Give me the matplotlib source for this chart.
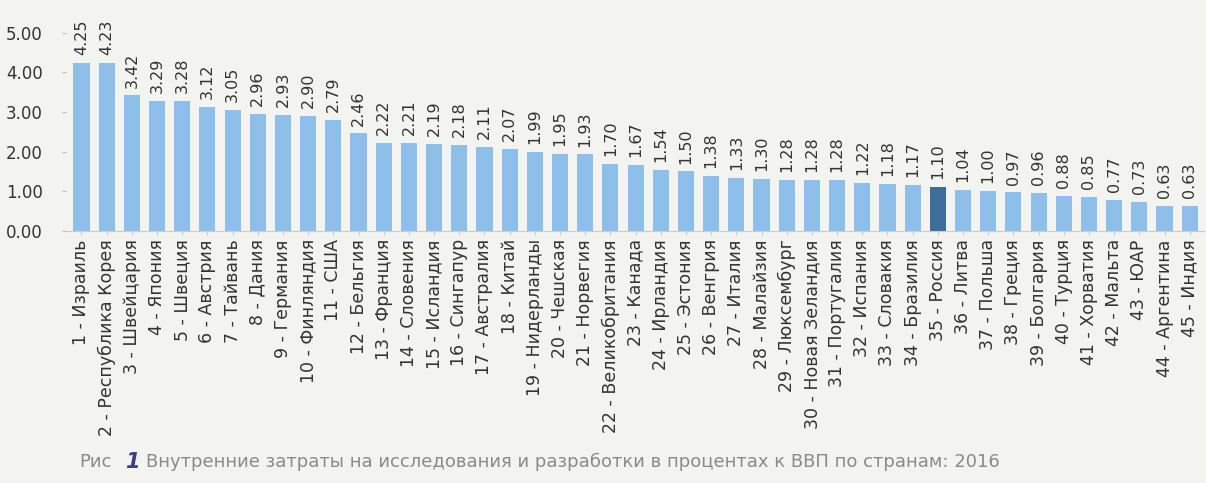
import matplotlib.pyplot as plt

# Данные: затраты на ИР, % ВВП, 2016
countries = [
    '1 - Израиль', '2 - Республика Корея', '3 - Швейцария', '4 - Япония', '5 - Швеция',
    '6 - Австрия', '7 - Тайвань', '8 - Дания', '9 - Германия', '10 - Финляндия',
    '11 - США', '12 - Бельгия', '13 - Франция', '14 - Словения', '15 - Исландия',
    '16 - Сингапур', '17 - Австралия', '18 - Китай', '19 - Нидерланды', '20 - Чешская',
    '21 - Норвегия', '22 - Великобритания', '23 - Канада', '24 - Ирландия', '25 - Эстония',
    '26 - Венгрия', '27 - Италия', '28 - Малайзия', '29 - Люксембург', '30 - Новая Зеландия',
    '31 - Португалия', '32 - Испания', '33 - Словакия', '34 - Бразилия', '35 - Россия',
    '36 - Литва', '37 - Польша', '38 - Греция', '39 - Болгария', '40 - Турция',
    '41 - Хорватия', '42 - Мальта', '43 - ЮАР', '44 - Аргентина', '45 - Индия',
]
values = [
    4.25, 4.23, 3.42, 3.29, 3.28, 3.12, 3.05, 2.96, 2.93, 2.90,
    2.79, 2.46, 2.22, 2.21, 2.19, 2.18, 2.11, 2.07, 1.99, 1.95,
    1.93, 1.70, 1.67, 1.54, 1.50, 1.38, 1.33, 1.30, 1.28, 1.28,
    1.28, 1.22, 1.18, 1.17, 1.10, 1.04, 1.00, 0.97, 0.96, 0.88,
    0.85, 0.77, 0.73, 0.63, 0.63,
]
highlight = '35 - Россия'
y_ticks = [0, 1, 2, 3, 4, 5]

bg = '#f3f4f0'
light = '#8dbfea'
dark = '#3d6c9e'
txt = '#333333'

plt.rcParams['font.family'] = ['DejaVu Sans']

fig = plt.figure(figsize=(12.06, 4.83), dpi=100, facecolor=bg)
ax = fig.add_axes([0.055, 0.522, 0.943, 0.41], facecolor=bg)

x = list(range(len(countries)))
colors = [dark if c == highlight else light for c in countries]
ax.bar(x, values, width=0.64, color=colors, edgecolor='none')

# подписи значений над столбцами
for xi, v in zip(x, values):
    ax.text(xi, v + 0.2, f'{v:.2f}', rotation=90, ha='center', va='bottom',
            fontsize=11.5, color=txt, clip_on=False)

ax.set_xlim(-0.6, len(countries) - 0.45)
ax.set_ylim(0, 5)
ax.set_yticks(y_ticks)
ax.set_yticklabels([f'{t:.2f}' for t in y_ticks], fontsize=12, color=txt)
ax.set_xticks(x)
ax.set_xticklabels(countries, rotation=90, fontsize=12.5, color=txt)

for s in ['top', 'right', 'left']:
    ax.spines[s].set_visible(False)
ax.spines['bottom'].set_color('#c8cdd4')
ax.tick_params(axis='y', length=3, color='#c0c0c0', pad=14)
ax.tick_params(axis='x', length=3, color='#c8cdd4', pad=3)

# Подпись рисунка
fig.text(0.066, 0.043, 'Рис', fontsize=13, color='#8a8a8a', va='center')
fig.text(0.104, 0.043, '1', fontsize=15, color='#3a3f8a', va='center',
         fontstyle='italic', fontweight='bold')
fig.text(0.121, 0.043,
         'Внутренние затраты на исследования и разработки в процентах к ВВП по странам: 2016',
         fontsize=13, color='#8a8a8a', va='center')

plt.savefig('out.png', dpi=100, facecolor=bg)
